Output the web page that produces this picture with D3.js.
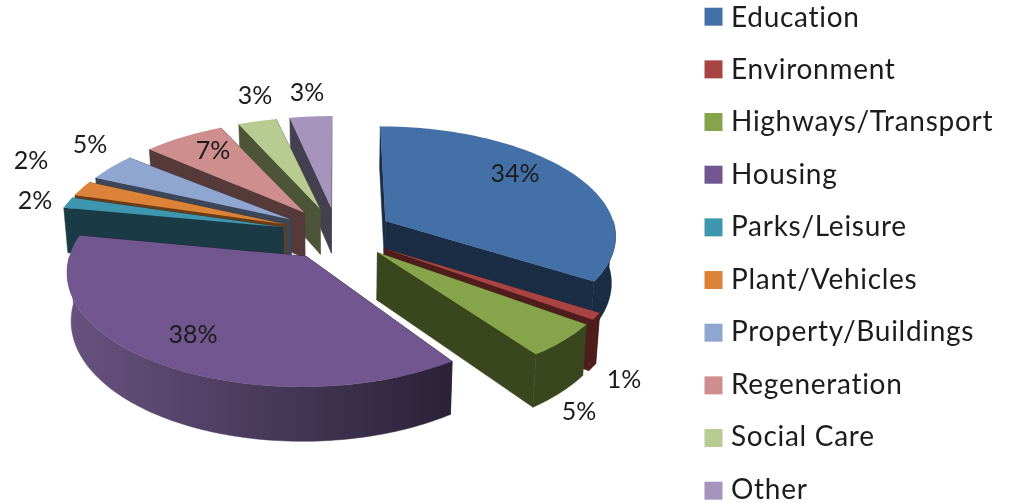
<!DOCTYPE html>
<html>
<head>
<meta charset="utf-8">
<script src="https://cdn.jsdelivr.net/npm/d3@7"></script>
<style>
  html, body { margin: 0; padding: 0; background: #fff; }
  svg { display: block; filter: blur(0.35px); }
  text { font-family: Lato, "Open Sans", sans-serif; fill: #1c1c1c; }
</style>
</head>
<body>
<script>
var categories = ["Education", "Environment", "Highways/Transport", "Housing", "Parks/Leisure",
  "Plant/Vehicles", "Property/Buildings", "Regeneration", "Social Care", "Other"];
var shares = [34, 1, 5, 38, 1.6, 2.2, 4.65, 6.85, 3.35, 3.35];

var topColors = ["#4470a8", "#a84442", "#86a44a", "#71568f", "#3e97ae", "#dc8239", "#8fa6d0", "#cd8e8d", "#b8cb90", "#a694bd"];
var wallColors = ["#1a2d45", "#4f1d1c", "#3a471e", "#2d223a", "#1a3b46", "#6b3c16", "#3c4658", "#553a39", "#4d5539", "#45404f"];

// painter's order, back of the pie first
var drawOrder = [9, 8, 7, 6, 5, 4, 0, 1, 2, 3];

// where the percent labels sit, centre of text
var labelSpots = [[515, 172], [624, 378], [579, 410], [193, 333], [35, 199], [31, 159], [90, 143], [213, 149], [255, 94], [307, 91]];

// degrees shaved off the slice edges, the gaps at the back are wider than a plain explode gives
var trimStart = [0, 0, 0, 1.5, 0, 0, 0, 0, 0, 0];
var trimEnd = [0, 0, 0, 0, 0, 0, 2.3, 1.05, 1.0, 0];

var width = 1012,
  height = 503;

// fitted from the slice corners in the picture
var cx = 337, cy = 233.5,   // pie centre before explosion
  radius = 231,
  explode = 56,
  squash = 0.471,
  camera = 1912,
  depth = 46.5;

var svg = d3.select("body").append("svg")
  .attr("width", width)
  .attr("height", height);

var pie = d3.pie().sort(null).value(function(d){return d}).startAngle(0).endAngle(2 * Math.PI);
var slices = pie(shares);
slices.forEach(function(s, i){
  s.a0 = s.startAngle + trimStart[i] * Math.PI / 180;
  s.a1 = s.endAngle - trimEnd[i] * Math.PI / 180;
});

// ground plane -> screen. z goes 0 (top face) to 1 (bottom of the wall)
function project(wx, wy, z){
  var s = 1 / (1 - wy / camera);
  var shrink = 1 - 0.015 * z;
  return [cx + wx * s * shrink, cy + wy * squash * s + depth * s * z];
}

function polar(slice, r, a){
  var mid = (slice.startAngle + slice.endAngle) / 2;
  return [explode * Math.sin(mid) + r * Math.sin(a), -explode * Math.cos(mid) - r * Math.cos(a)];
}

function arcAngles(a0, a1){
  var n = Math.max(2, Math.ceil((a1 - a0) / 0.02));
  return d3.range(n + 1).map(function(i){return a0 + (a1 - a0) * i / n});
}

var line = d3.line().curve(d3.curveLinear);
function closed(pts){ return line(pts) + "Z"; }

function topFace(slice){
  var pts = [polar(slice, 0, 0)].concat(arcAngles(slice.a0, slice.a1).map(function(a){return polar(slice, radius, a)}));
  return closed(pts.map(function(p){return project(p[0], p[1], 0)}));
}

function radialWall(slice, a){
  var apex = polar(slice, 0, 0), rim = polar(slice, radius, a);
  return closed([
    project(apex[0], apex[1], 0), project(rim[0], rim[1], 0),
    project(rim[0], rim[1], 1), project(apex[0], apex[1], 1)
  ]);
}

// only the part of the rim that faces the viewer
function outerWall(slice){
  var a0 = Math.max(slice.a0, Math.PI / 2),
    a1 = Math.min(slice.a1, 3 * Math.PI / 2);
  if (a1 <= a0) return null;
  var rim = arcAngles(a0, a1).map(function(a){return polar(slice, radius, a)});
  var up = rim.map(function(p){return project(p[0], p[1], 0)});
  var down = rim.slice().reverse().map(function(p){return project(p[0], p[1], 1)});
  return closed(up.concat(down));
}

// the housing rim is lit from the left
var grad = svg.append("defs").append("linearGradient")
  .attr("id", "housingWall")
  .attr("gradientUnits", "userSpaceOnUse")
  .attr("x1", 67).attr("x2", 453).attr("y1", 0).attr("y2", 0);
grad.append("stop").attr("offset", "0").attr("stop-color", "#68527f");
grad.append("stop").attr("offset", "0.55").attr("stop-color", "#463858");
grad.append("stop").attr("offset", "1").attr("stop-color", "#2b2137");

var wedge = svg.selectAll("g.slice")
  .data(drawOrder)
  .enter().append("g")
  .attr("class", "slice");

wedge.each(function(i){
  var g = d3.select(this), slice = slices[i];
  var wall = i == 3 ? "url(#housingWall)" : wallColors[i];

  g.append("path").attr("d", radialWall(slice, slice.a0)).attr("fill", wallColors[i]).attr("stroke", wallColors[i]).attr("stroke-width", 0.5);
  g.append("path").attr("d", radialWall(slice, slice.a1)).attr("fill", wallColors[i]).attr("stroke", wallColors[i]).attr("stroke-width", 0.5);
  var outer = outerWall(slice);
  if (outer) g.append("path").attr("d", outer).attr("fill", wall).attr("stroke", wall).attr("stroke-width", 0.5);
  g.append("path").attr("d", topFace(slice)).attr("fill", topColors[i]);
});

svg.selectAll("text.pct")
  .data(shares)
  .enter().append("text")
  .attr("class", "pct")
  .attr("x", function(d, i){return labelSpots[i][0]})
  .attr("y", function(d, i){return labelSpots[i][1]})
  .attr("text-anchor", "middle")
  .attr("dominant-baseline", "central")
  .attr("font-size", 25)
  .text(function(d){return d3.format(".0f")(d) + "%"});

// legend
var swatchY = d3.scalePoint().domain(categories).range([16.7, 490.7]);
var legendTextY = d3.scalePoint().domain(categories).range([15.5, 487.5]);

svg.selectAll("rect.swatch")
  .data(categories)
  .enter().append("rect")
  .attr("class", "swatch")
  .attr("x", 704.5)
  .attr("y", function(d){return swatchY(d) - 9})
  .attr("width", 18)
  .attr("height", 18)
  .attr("fill", function(d, i){return topColors[i]});

svg.selectAll("text.legend")
  .data(categories)
  .enter().append("text")
  .attr("class", "legend")
  .attr("x", 731)
  .attr("y", function(d){return legendTextY(d)})
  .attr("dominant-baseline", "central")
  .attr("font-size", 28)
  .attr("letter-spacing", 0.72)
  .text(function(d){return d});
</script>
</body>
</html>
